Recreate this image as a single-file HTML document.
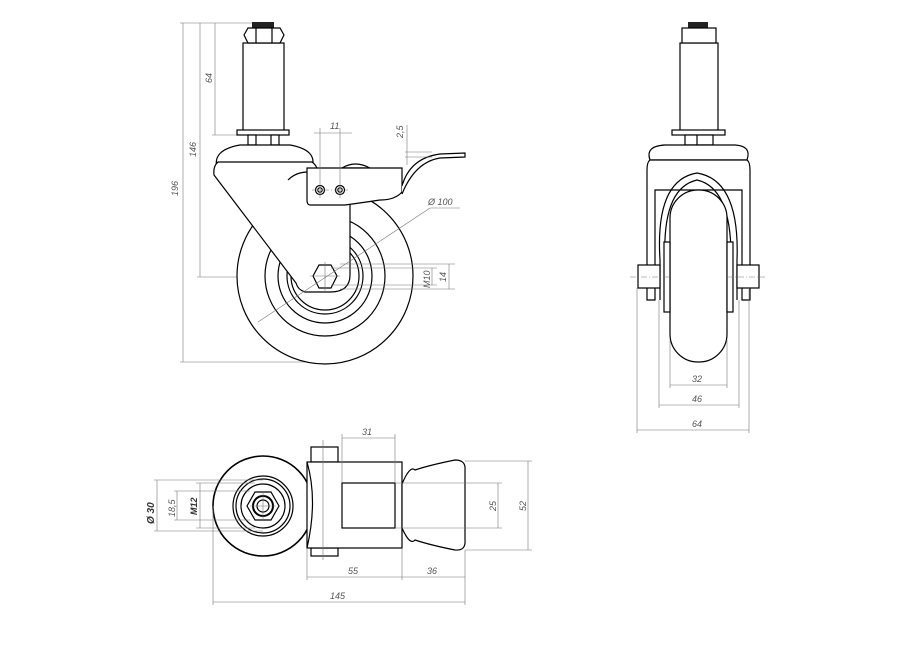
<!DOCTYPE html>
<html><head><meta charset="utf-8"><style>
html,body{margin:0;padding:0;background:#fff;}
svg{display:block;}
text{font-family:"Liberation Sans",sans-serif;font-size:9px;font-style:italic;fill:#555;}
.k{stroke:#000;stroke-width:1.2;fill:#fff;}
.kn{stroke:#000;stroke-width:1.2;fill:none;}
.d{stroke:#777;stroke-width:0.6;fill:none;}
.c{stroke:#777;stroke-width:0.5;fill:none;stroke-dasharray:6 2 1 2;}
</style></head><body>
<svg width="919" height="650" viewBox="0 0 919 650" xmlns="http://www.w3.org/2000/svg">
<!-- ===== SIDE VIEW ===== -->
<!-- dims -->
<line class="d" x1="180" y1="23" x2="262" y2="23"/>
<line class="d" x1="183" y1="23" x2="183" y2="362"/>
<line class="d" x1="180" y1="362" x2="325" y2="362"/>
<text transform="translate(178,196) rotate(-90)">196</text>
<line class="d" x1="200" y1="23" x2="200" y2="277"/>
<line class="d" x1="197" y1="277" x2="318" y2="277"/>
<text transform="translate(196,157) rotate(-90)">146</text>
<line class="d" x1="215" y1="23" x2="215" y2="135"/>
<line class="d" x1="212" y1="135" x2="240" y2="135"/>
<text transform="translate(212,83) rotate(-90)">64</text>
<!-- wheel -->
<circle class="k" cx="325" cy="276" r="88"/>
<circle class="kn" cx="325" cy="276" r="60"/>
<circle class="kn" cx="325" cy="276" r="47"/>
<circle class="kn" cx="325" cy="276" r="38"/>
<circle class="kn" cx="325" cy="276" r="34"/>
<!-- stem -->
<rect class="k" x="243" y="43" width="41" height="88"/>
<rect x="252" y="22" width="22" height="6" fill="#222"/>
<polygon class="k" points="248,28 280,28 284,35 280,43 248,43 244,35"/>
<line class="kn" x1="256" y1="28" x2="256" y2="43"/><line class="kn" x1="272" y1="28" x2="272" y2="43"/>
<rect class="k" x="237" y="130" width="52" height="5"/>
<rect class="k" x="248" y="135" width="8" height="10"/><rect class="k" x="271" y="135" width="8" height="10"/>
<path class="k" d="M217,168 Q212,150 240,145 L290,145 Q318,150 312,168 Z"/>
<!-- fork -->
<path class="k" d="M218,162 L312,162 Q318,166 318,175 L350,175 L350,275 Q350,292 330,292 L305,292 Q298,290 296,283 L214,175 Q213,166 218,162 Z"/>
<path class="kn" d="M288,180 Q296,172 308,172"/>
<!-- brake -->
<path class="k" d="M342,168 Q355,160 370,168 Z"/>
<path class="k" d="M307,168 L402,168 L402,192 Q395,200 380,200 Q360,203 345,205 L310,205 Q307,205 307,200 Z"/>
<path class="k" d="M402,186 Q410,158 440,154 L465,153 L465,157 L440,158 Q415,162 402,194"/>
<circle class="k" cx="320" cy="190" r="4.5"/><circle class="kn" cx="320" cy="190" r="2.2"/>
<circle class="k" cx="340" cy="190" r="4.5"/><circle class="kn" cx="340" cy="190" r="2.2"/>
<line class="c" x1="312" y1="190" x2="348" y2="190"/>
<line class="d" x1="320" y1="128" x2="320" y2="198"/>
<line class="d" x1="340" y1="128" x2="340" y2="198"/>
<line class="d" x1="314" y1="133" x2="352" y2="133"/>
<text x="330" y="129">11</text>
<line class="d" x1="407" y1="125" x2="407" y2="165"/>
<line class="d" x1="405" y1="152" x2="432" y2="152"/><line class="d" x1="405" y1="157" x2="432" y2="157"/>
<text transform="translate(403,138) rotate(-90)">2,5</text>
<!-- hub nut -->
<polygon class="k" points="319,265 331,265 337,276 331,288 319,288 313,276"/>
<line class="d" x1="310" y1="276" x2="340" y2="276"/><line class="d" x1="325" y1="262" x2="325" y2="292"/>
<!-- dia 100 leader -->
<line class="d" x1="258" y1="322" x2="430" y2="208"/><line class="d" x1="430" y1="208" x2="460" y2="208"/>
<text x="428" y="205">Ø 100</text>
<line class="d" x1="331" y1="268" x2="437" y2="268"/><line class="d" x1="331" y1="285" x2="437" y2="285"/>
<line class="d" x1="432" y1="268" x2="432" y2="285"/>
<text transform="translate(430,288) rotate(-90)" style="font-size:9px">M10</text>
<line class="d" x1="340" y1="264" x2="455" y2="264"/><line class="d" x1="340" y1="289" x2="455" y2="289"/>
<line class="d" x1="449" y1="264" x2="449" y2="289"/>
<text transform="translate(446,282) rotate(-90)">14</text>

<!-- ===== FRONT VIEW ===== -->
<rect class="k" x="680" y="43" width="38" height="88"/>
<rect x="688" y="22" width="20" height="6" fill="#222"/>
<rect class="k" x="682" y="28" width="34" height="15"/>
<rect class="k" x="672" y="130" width="53" height="5"/>
<rect class="k" x="685" y="135" width="28" height="10"/>
<line class="kn" x1="697" y1="135" x2="697" y2="145"/>
<path class="k" d="M650,160 Q645,146 665,145 L735,145 Q752,146 747,160 Z"/>
<path class="k" d="M650,160 L747,160 Q750,162 750,170 L750,300 L742,300 L742,190 L655,190 L655,300 L647,300 L647,170 Q647,162 650,160 Z"/>
<path class="kn" d="M660,300 L660,260 Q655,180 697,173 Q740,180 737,260 L737,300"/>
<path class="kn" d="M665,300 L665,260 Q662,188 697,180 Q732,188 731,260 L731,300"/>
<rect class="k" x="670" y="190" width="57" height="172" rx="28"/>
<rect class="k" x="664" y="242" width="6" height="70"/><rect class="k" x="727" y="242" width="6" height="70"/>
<rect class="k" x="638" y="265" width="22" height="23"/><rect class="k" x="737" y="265" width="22" height="23"/>
<line class="c" x1="630" y1="277" x2="670" y2="277"/><line class="c" x1="727" y1="277" x2="765" y2="277"/>
<line class="d" x1="670" y1="340" x2="670" y2="388"/><line class="d" x1="727" y1="340" x2="727" y2="388"/>
<line class="d" x1="670" y1="385" x2="727" y2="385"/><text x="692" y="382">32</text>
<line class="d" x1="659" y1="300" x2="659" y2="408"/><line class="d" x1="739" y1="300" x2="739" y2="408"/>
<line class="d" x1="659" y1="405" x2="739" y2="405"/><text x="692" y="402">46</text>
<line class="d" x1="637" y1="288" x2="637" y2="433"/><line class="d" x1="749" y1="288" x2="749" y2="433"/>
<line class="d" x1="637" y1="430" x2="749" y2="430"/><text x="692" y="427">64</text>

<!-- ===== TOP VIEW ===== -->
<circle class="k" cx="263" cy="506" r="50" style="stroke-width:1.6"/>
<circle class="kn" cx="263" cy="506" r="30"/>
<circle class="kn" cx="263" cy="506" r="27"/>
<circle class="kn" cx="263" cy="506" r="22"/>
<polygon class="kn" points="255,492 271,492 279,506 271,520 255,520 247,506"/>
<circle class="kn" cx="263" cy="506" r="10" style="stroke-width:2"/>
<circle class="kn" cx="263" cy="506" r="6"/>
<line class="d" x1="250" y1="506" x2="276" y2="506"/><line class="d" x1="263" y1="492" x2="263" y2="520"/>
<rect class="k" x="311" y="447" width="27" height="15"/>
<rect class="k" x="311" y="548" width="27" height="8"/>
<rect class="k" x="307" y="462" width="95" height="86"/>
<path class="kn" d="M307,462 Q318,500 307,548"/>
<line class="d" x1="323" y1="440" x2="323" y2="560"/>
<rect class="kn" x="342" y="483" width="53" height="45"/>
<path class="k" d="M402,484 Q410,465 415,470 Q430,465 455,460 Q466,460 465,470 L465,540 Q466,551 455,550 Q430,545 415,540 Q410,546 402,528 Z"/>
<line class="d" x1="342" y1="434" x2="342" y2="483"/><line class="d" x1="395" y1="434" x2="395" y2="483"/>
<line class="d" x1="342" y1="438" x2="395" y2="438"/><text x="362" y="435">31</text>
<line class="d" x1="395" y1="483" x2="502" y2="483"/><line class="d" x1="395" y1="528" x2="502" y2="528"/>
<line class="d" x1="498" y1="483" x2="498" y2="528"/>
<text transform="translate(496,511) rotate(-90)">25</text>
<line class="d" x1="465" y1="461" x2="532" y2="461"/><line class="d" x1="465" y1="550" x2="532" y2="550"/>
<line class="d" x1="528" y1="461" x2="528" y2="550"/>
<text transform="translate(526,511) rotate(-90)">52</text>
<line class="d" x1="307" y1="548" x2="307" y2="580"/><line class="d" x1="402" y1="548" x2="402" y2="580"/>
<line class="d" x1="465" y1="550" x2="465" y2="605"/>
<line class="d" x1="307" y1="577" x2="465" y2="577"/>
<text x="348" y="574">55</text><text x="427" y="574">36</text>
<line class="d" x1="213" y1="506" x2="213" y2="605"/>
<line class="d" x1="213" y1="602" x2="465" y2="602"/>
<text x="330" y="599">145</text>
<line class="d" x1="154" y1="480" x2="263" y2="480"/><line class="d" x1="154" y1="531" x2="263" y2="531"/>
<line class="d" x1="157" y1="480" x2="157" y2="531"/>
<text transform="translate(154,524) rotate(-90)" style="font-size:10px;font-weight:bold;fill:#333">Ø 30</text>
<line class="d" x1="174" y1="491" x2="250" y2="491"/><line class="d" x1="174" y1="520" x2="250" y2="520"/>
<line class="d" x1="177" y1="491" x2="177" y2="520"/>
<text transform="translate(175,517) rotate(-90)">18,5</text>
<line class="d" x1="196" y1="483" x2="255" y2="483"/><line class="d" x1="196" y1="528" x2="255" y2="528"/>
<line class="d" x1="200" y1="483" x2="200" y2="528"/>
<text transform="translate(197,515) rotate(-90)" style="font-weight:bold;fill:#333">M12</text>
</svg>
</body></html>
